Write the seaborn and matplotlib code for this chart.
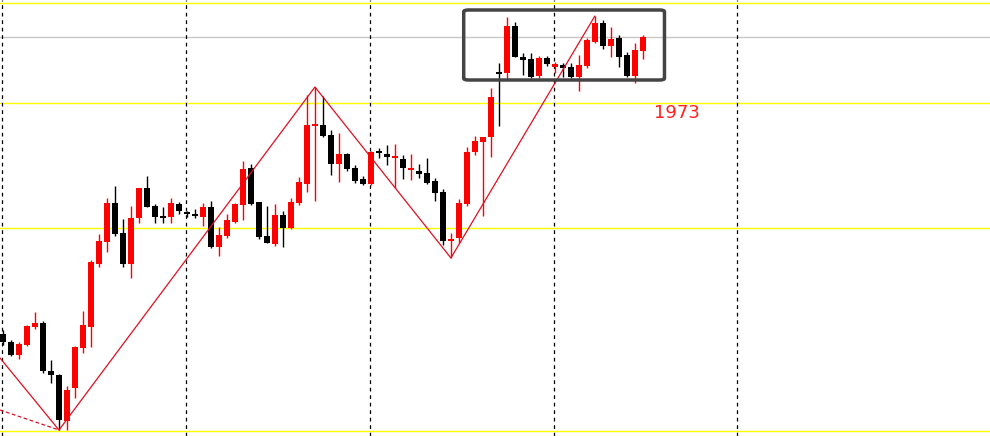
import numpy as np
import pandas as pd
import seaborn as sns
import matplotlib
matplotlib.use("Agg")
import matplotlib.pyplot as plt
from matplotlib.patches import FancyBboxPatch

opens = [102,94,81,91,109,113,65,61,15,48,88,109,172,194,233,203,172,218,248,230,219,219,232,223,221,219,229,189,200,214,
         231,268,234,200,192,221,208,233,252,310,311,301,272,282,268,257,252,284,282,278,277,266,265,263,255,244,195,198,232,284,
         294,299,363,363,410,379,377,360,378,369,371,369,359,370,394,413,390,398,381,360,385]
highs = [106,96,94,111,124,115,76,62,50,90,125,176,202,238,250,217,230,248,260,232,229,238,234,225,227,233,235,209,222,233,
         275,272,234,230,232,225,238,259,341,349,340,306,303,283,271,260,285,288,291,292,281,282,272,278,258,247,203,237,289,300,
         299,348,373,419,414,383,383,380,380,374,373,373,381,398,420,416,409,401,384,393,401]
lows = [91,80,77,90,107,63,53,6,6,38,83,89,169,184,200,169,158,213,229,213,213,213,222,219,218,210,188,180,198,213,
        216,231,197,193,190,189,207,231,244,235,299,261,254,265,253,251,251,278,271,248,257,256,258,252,235,191,178,193,230,281,
        220,279,310,356,379,361,358,358,370,363,359,358,345,368,393,387,379,369,359,353,377]
closes = [94,81,92,110,113,65,61,16,46,89,111,174,195,233,202,172,218,248,229,219,218,233,225,222,220,229,189,201,216,232,
          267,232,199,193,221,208,234,254,311,311,300,272,282,267,255,252,284,283,279,278,268,266,262,253,243,195,197,233,284,295,
          299,339,362,410,379,376,359,378,372,372,368,359,371,396,413,390,397,379,360,386,399]

zig_idx = [-0.375, 7, 39, 56, 74]
zig_val = [78, 6, 349, 178, 420]
dash_idx = [-0.375, 7]
dash_val = [26, 6]
yellow_levels = [433, 333, 208, 5]
gray_levels = [399]
vline_idx = [-0.125, 22.875, 45.875, 68.875, 91.75]
label_text = "1973"

df = pd.DataFrame({"i": np.arange(len(opens)), "open": opens, "high": highs,
                   "low": lows, "close": closes})
df["up"] = df["close"] >= df["open"]

sns.set_style("white")
fig = plt.figure(figsize=(9.9, 4.36), dpi=100)
ax = fig.add_axes([0, 0, 1, 1])

for y in yellow_levels:
    ax.axhline(y, color="#ffff00", lw=1, zorder=0)
for y in gray_levels:
    ax.axhline(y, color="#c8c8c8", lw=1, zorder=0)
for x in vline_idx:
    ax.axvline(x, color="black", lw=0.9, ls=(0, (3, 3)), zorder=0)

for _, r in df.iterrows():
    c = "#ff0000" if r["up"] else "black"
    ax.vlines(r["i"], r["low"], r["high"], color=c, lw=1, zorder=2)
    lo = min(r["open"], r["close"])
    h = max(abs(r["close"] - r["open"]), 1.5)
    ax.bar(r["i"], h, bottom=lo, width=0.72, color=c, zorder=3, linewidth=0)

sns.lineplot(x=zig_idx, y=zig_val, ax=ax, color="#dd1020", lw=0.9, zorder=4, sort=False)
ax.plot(dash_idx, dash_val, color="#dd1020", lw=0.9, ls=(0, (3, 2)), zorder=4)

box = FancyBboxPatch((57.6, 356), 25.1, 70, boxstyle="round,pad=0,rounding_size=0.6",
                     fill=False, edgecolor="#444444", lw=2.5, zorder=5, mutation_aspect=3)
ax.add_patch(box)
ax.text(81.4, 323, label_text, color="#ff2020", fontsize=13, va="center", ha="left")

ax.set_xlim(-0.375, 123.4)
ax.set_ylim(0, 436)
ax.axis("off")
fig.savefig("out.png", dpi=100)
